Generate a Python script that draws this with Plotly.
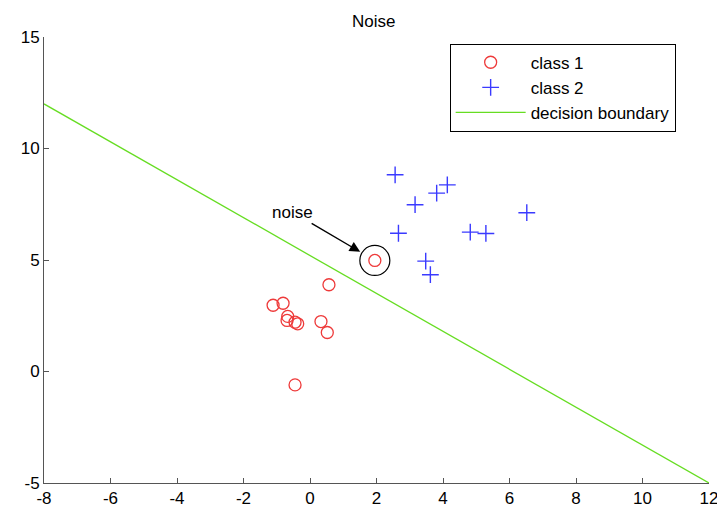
import plotly.graph_objects as go

class1_x = [1.95, 0.57, -1.11, -0.81, -0.67, -0.69, -0.45, -0.37, 0.33, 0.52, -0.45]
class1_y = [4.98, 3.89, 2.97, 3.06, 2.47, 2.29, 2.21, 2.14, 2.24, 1.75, -0.60]
class2_x = [2.56, 4.13, 3.81, 3.16, 6.52, 2.66, 4.82, 5.29, 3.48, 3.62]
class2_y = [8.82, 8.37, 8.00, 7.48, 7.12, 6.20, 6.25, 6.19, 4.95, 4.34]
boundary_x = [-8, 12]
boundary_y = [12, -5]
noise_pt = (1.95, 4.98)
x_ticks = [-8, -6, -4, -2, 0, 2, 4, 6, 8, 10, 12]
y_ticks = [-5, 0, 5, 10, 15]
x_labels = [str(v) for v in x_ticks]
y_labels = [str(v) for v in y_ticks]

font = "Liberation Sans, Arial, sans-serif"

fig = go.Figure()
fig.add_trace(go.Scatter(x=class1_x, y=class1_y, mode="markers", name="class 1",
                         marker=dict(symbol="circle-open", size=12, color="#ee3a3a",
                                     line=dict(width=1.3, color="#ee3a3a"))))
fig.add_trace(go.Scatter(x=class2_x, y=class2_y, mode="markers", name="class 2",
                         marker=dict(symbol="cross-thin-open", size=12, color="#3a3aff",
                                     line=dict(width=1.4, color="#3a3aff"))))
fig.add_trace(go.Scatter(x=boundary_x, y=boundary_y, mode="lines", name="decision boundary",
                         line=dict(color="#66dd22", width=1.3)))

fig.add_shape(type="circle", xref="x", yref="y", xsizemode="pixel", ysizemode="pixel",
              xanchor=noise_pt[0], yanchor=noise_pt[1], x0=-15, x1=15, y0=-15, y1=15,
              line=dict(color="black", width=1.2))
fig.add_annotation(x=noise_pt[0], y=noise_pt[1], text="noise", showarrow=True,
                   ax=-82, ay=-48, arrowhead=2, arrowsize=1.5, arrowwidth=1.4,
                   arrowcolor="black", standoff=17,
                   font=dict(size=17, color="black", family=font))

# page body has an 8px default margin, so the figure is sized to fit the window
fig.update_layout(
    width=717, height=504,
    margin=dict(l=36, r=16, t=29, b=29),
    paper_bgcolor="white", plot_bgcolor="white",
    font=dict(family=font, size=17, color="black"),
    title=dict(text="Noise", x=0.51, xanchor="center", y=0.985, yanchor="top",
               font=dict(size=17, color="black", family=font)),
    legend=dict(x=0.61, y=0.985, xanchor="left", yanchor="top",
                bordercolor="black", borderwidth=1, bgcolor="white",
                font=dict(size=17, family=font, color="black"),
                tracegroupgap=0, itemwidth=70),
    showlegend=True,
)
fig.update_xaxes(range=[-8, 12], tickvals=x_ticks, ticktext=x_labels, ticks="inside", ticklen=5,
                 showline=True, linecolor="#555", tickcolor="#555", linewidth=1,
                 showgrid=False, zeroline=False, mirror=False, automargin=False,
                 tickfont=dict(size=17, color="black"))
fig.update_yaxes(range=[-5, 15], tickvals=y_ticks, ticktext=y_labels, ticks="inside", ticklen=5,
                 showline=True, linecolor="#555", tickcolor="#555", linewidth=1,
                 showgrid=False, zeroline=False, mirror=False, automargin=False,
                 tickfont=dict(size=17, color="black"))

fig.write_html("out.html")
